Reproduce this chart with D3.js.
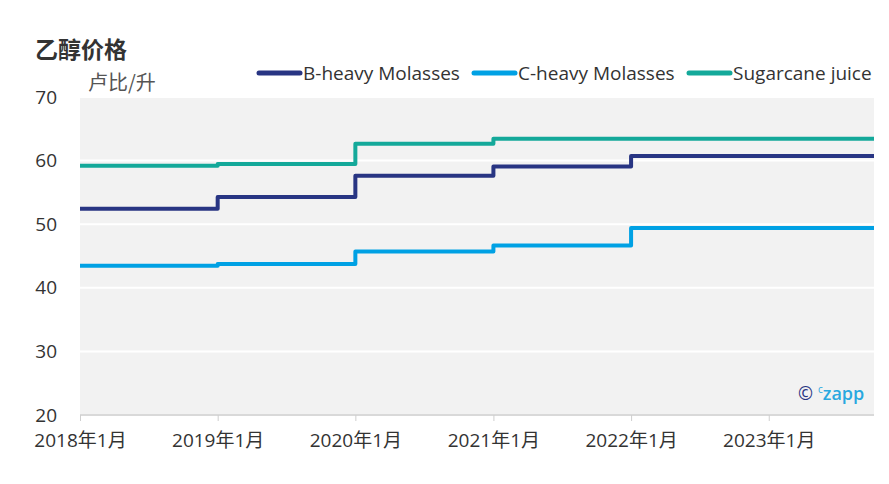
<!DOCTYPE html>
<html>
<head>
<meta charset="utf-8">
<script src="https://cdn.jsdelivr.net/npm/d3@7"></script>
<style>
  body { margin: 0; background: #fff; }
  text { font-family: "Open Sans", "Noto Sans CJK SC", sans-serif; }
</style>
</head>
<body>
<div id="chart"></div>
<script>
// step start dates and the date where the series end
let stepDates = ["2018-01-01", "2019-01-01", "2020-01-01", "2021-01-01", "2022-01-01"];
let endDate = "2023-10-07";
let tickDates = ["2018-01-01", "2019-01-01", "2020-01-01", "2021-01-01", "2022-01-01", "2023-01-01"];
let tickLabels = ["2018年1月", "2019年1月", "2020年1月", "2021年1月", "2022年1月", "2023年1月"];
let yTicks = [20, 30, 40, 50, 60, 70];

let seriesNames = ["B-heavy Molasses", "C-heavy Molasses", "Sugarcane juice"];
let bHeavy = [52.43, 54.27, 57.61, 59.08, 60.73];
let cHeavy = [43.46, 43.75, 45.69, 46.66, 49.41];
let juice = [59.19, 59.48, 62.65, 63.45, 63.45];
let colors = ["#283583", "#00a1e4", "#14a99a"];

let svgWidth = 889, svgHeight = 484;
let plotLeft = 80, plotRight = 874, plotTop = 97, plotBottom = 415;

let svg = d3.select("#chart").append("svg")
  .attr("width", svgWidth)
  .attr("height", svgHeight);

let parse = d3.timeParse("%Y-%m-%d");

let x = d3.scaleTime()
  .domain([parse(stepDates[0]), parse(endDate)])
  .range([plotLeft, plotRight]);

let y = d3.scaleLinear()
  .domain([20, 70])
  .range([plotBottom, plotTop]);

// plot background
svg.append("rect")
  .attr("x", plotLeft).attr("y", plotTop)
  .attr("width", plotRight - plotLeft).attr("height", plotBottom - plotTop)
  .attr("fill", "#f2f2f2");

// grid
svg.append("g").selectAll("line")
  .data(yTicks.filter(d => d > 20))
  .enter().append("line")
    .attr("x1", plotLeft).attr("x2", plotRight)
    .attr("y1", d => y(d)).attr("y2", d => y(d))
    .attr("stroke", "#fff")
    .attr("stroke-width", 2);

// y labels
svg.append("g").selectAll("text")
  .data(yTicks)
  .enter().append("text")
    .attr("x", 57)
    .attr("y", d => y(d))
    .attr("dy", "0.35em")
    .attr("text-anchor", "end")
    .attr("font-size", "19px")
    .attr("fill", "#333")
    .text(d => d);

// x axis
let xAxis = d3.axisBottom(x)
  .tickValues(tickDates.map(parse))
  .tickSize(6)
  .tickFormat((d, i) => tickLabels[i]);

let gx = svg.append("g")
  .attr("transform", `translate(0,${plotBottom})`)
  .call(xAxis);
gx.select(".domain").attr("stroke", "#d9d9d9").attr("stroke-width", 2)
  .attr("d", `M${plotLeft},0H${plotRight}`);
gx.selectAll(".tick line").attr("stroke", "#cfcfcf");
gx.selectAll(".tick text")
  .attr("y", 19)
  .attr("font-size", "19px")
  .attr("fill", "#333")
  .style("font-family", "'Open Sans', 'Noto Sans CJK SC', sans-serif");

// lines
let allSeries = [bHeavy, cHeavy, juice];
let line = d3.line()
  .x(d => x(d.date))
  .y(d => y(d.value))
  .curve(d3.curveStepAfter);

allSeries.forEach(function(values, i) {
  let pts = values.map((v, j) => ({date: parse(stepDates[j]), value: v}));
  pts.push({date: parse(endDate), value: values[values.length - 1]});
  svg.append("path")
    .datum(pts)
    .attr("d", line)
    .attr("fill", "none")
    .attr("stroke", colors[i])
    .attr("stroke-width", 4)
    .attr("stroke-linejoin", "round");
});

// title and unit
svg.append("text")
  .attr("x", 35).attr("y", 58)
  .attr("font-size", "23px")
  .attr("font-weight", "700")
  .attr("fill", "#333")
  .style("font-family", "'Noto Sans CJK SC', sans-serif")
  .text("乙醇价格");

svg.append("text")
  .attr("x", 88).attr("y", 90)
  .attr("font-size", "20px")
  .attr("fill", "#555")
  .style("font-family", "'Noto Sans CJK SC', sans-serif")
  .text("卢比/升");

// legend
let legendX = [259, 474, 689];
let legend = svg.append("g").selectAll("g")
  .data(seriesNames)
  .enter().append("g")
    .attr("transform", (d, i) => `translate(${legendX[i]},73)`);

legend.append("line")
  .attr("x1", 0).attr("x2", 41)
  .attr("stroke", (d, i) => colors[i])
  .attr("stroke-width", 5)
  .attr("stroke-linecap", "round");

legend.append("text")
  .attr("x", 44)
  .attr("dy", "0.35em")
  .attr("font-size", "19px")
  .attr("fill", "#333")
  .text(d => d);

// watermark
let wm = svg.append("text")
  .attr("x", 798).attr("y", 400)
  .attr("font-size", "18px");
wm.append("tspan").attr("fill", "#283583").text("©");
wm.append("tspan").attr("fill", "#29a8e0").attr("font-size", "10px").attr("dx", 5).attr("dy", -7).text("c");
wm.append("tspan").attr("fill", "#29a8e0").attr("font-weight", "600").attr("dy", 7).text("zapp");
</script>
</body>
</html>
